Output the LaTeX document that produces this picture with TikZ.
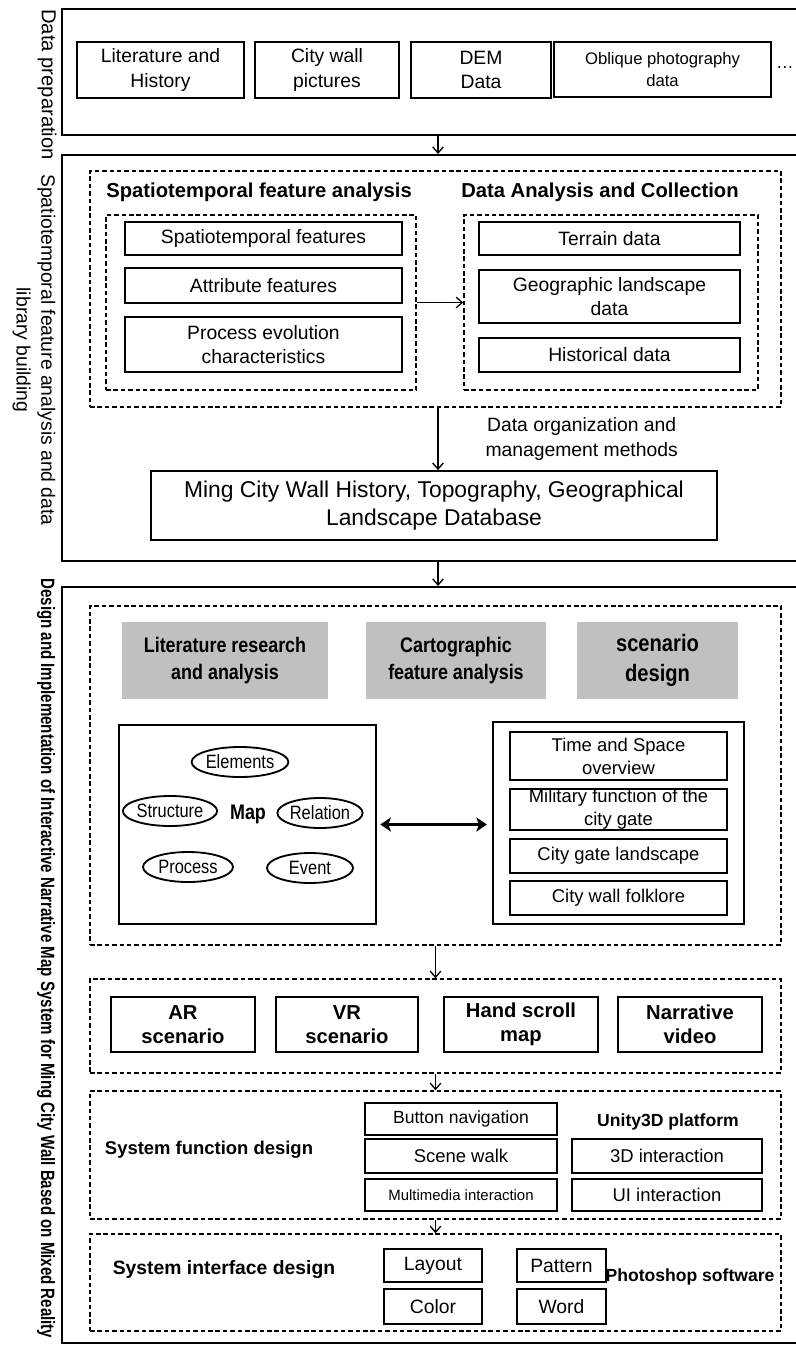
\documentclass[tikz,border=0pt]{standalone}
\usepackage{fontspec}
\setmainfont{Liberation Sans}
\newfontfamily\narrowfont[FakeStretch=0.85]{Liberation Sans}
\newfontfamily\slimfont[FakeStretch=0.78]{Liberation Sans}
\usepackage{tikz}
\usetikzlibrary{positioning}
\usetikzlibrary{fit}
\usetikzlibrary{shapes.geometric}
\usetikzlibrary{arrows.meta}
\definecolor{boxgrey}{RGB}{192,192,192}

\begin{document}
\begin{tikzpicture}[x=0.02cm, y=-0.02cm,
		frame/.style={draw, line width=1.1pt, inner sep=0pt},
		dframe/.style={draw, line width=0.8pt, dash pattern=on 2.6pt off 1.6pt, inner sep=0pt},
		size/.style 2 args={minimum width=#1*0.02cm, minimum height=#2*0.02cm},
		box/.style={draw, line width=0.95pt, inner sep=0pt, align=center, font=\fontsize{11}{14}\selectfont},
		nbox/.style={box, font=\fontsize{10.5}{13}\selectfont},
		bbox/.style={box, font=\bfseries\fontsize{11.5}{13.5}\selectfont},
		grey/.style={fill=boxgrey, inner sep=0pt, align=center, font=\narrowfont\bfseries\fontsize{12}{15}\selectfont},
		oval/.style={ellipse, draw, line width=1.05pt, inner sep=0pt, minimum height=30*0.02cm, font=\narrowfont\fontsize{11}{12}\selectfont},
		head/.style={inner sep=0pt, font=\bfseries\fontsize{11.5}{14}\selectfont},
		side/.style={rotate=-90, inner sep=0pt, align=center, font=\fontsize{11}{14}\selectfont},
		arr/.style={-{Straight Barb[length=3.5pt, width=6pt]}, line width=0.75pt},
		dbl/.style={{Stealth[length=6pt, width=8pt, inset=1.5pt]}-{Stealth[length=6pt, width=8pt, inset=1.5pt]}, line width=1.5pt}
	]
	\useasboundingbox (0,0) rectangle (795,1349);
	\coordinate (mid) at (438,0);

	% data preparation
	\node[frame, fit={(62,9) (800,135)}] (prep) {};
	\node[side, font=\fontsize{11.5}{14}\selectfont, anchor=west] (prepl) at (47,9) {Data preparation};
	\foreach \x/\w/\name/\txt in {160.5/167/lit/{Literature and\\History}, 327/144/pic/{City wall\\pictures}, 481/140/dem/{DEM\\Data}} {
		\node[box, size={\w}{56}] (\name) at (\x,70) {\txt};
	}
	\node[box, size={217}{55}, font=\fontsize{9.5}{12}\selectfont] (obl) at (662.5,69.5) {Oblique photography\\data};
	\node[inner sep=0pt] (more) at (785,68) {\dots};

	% feature analysis and database
	\node[frame, fit={(62,155) (800,561)}] (build) {};
	\node[side] (buildl) at (34,350) {Spatiotemporal feature analysis and data\\library building};
	\draw[arr] (prep.south -| mid) -- (build.north -| mid);

	\node[dframe, fit={(90,171) (781,407)}] (anal) {};
	\node[head, anchor=west] (feath) at (106,192) {Spatiotemporal feature analysis};
	\node[head, anchor=west] (collh) at (461,192) {Data Analysis and Collection};
	\node[dframe, fit={(106,215) (416,390)}] (feat) {};
	\node[dframe, fit={(464,215) (758,390)}] (coll) {};
	\node[box, size={277}{33}] (spat) at (263.5,238.5) {Spatiotemporal features};
	\node[box, size={277}{35}] (attr) at (263.5,285.5) {Attribute features};
	\node[box, size={277}{55}] (proc) at (263.5,344.5) {Process evolution\\characteristics};
	\node[box, size={261}{33}] (terr) at (609.5,238.5) {Terrain data};
	\node[box, size={261}{53}] (geo) at (609.5,296.5) {Geographic landscape\\data};
	\node[box, size={261}{34}] (hist) at (609.5,355) {Historical data};
	\draw[arr] (feat) -- (coll);

	\node[box, size={566}{69}, font=\fontsize{13}{15.5}\selectfont] (db) at (434,505.5) {Ming City Wall History, Topography, Geographical\\Landscape Database};
	\draw[arr] (anal.south -| mid) -- node[midway, anchor=west, xshift=0.82cm, align=center, font=\fontsize{11}{14}\selectfont] (orgl) {Data organization and\\management methods} (db.north -| mid);

	% narrative map system
	\node[frame, fit={(62,587) (800,1343)}] (design) {};
	\node[side, font=\slimfont\bfseries\fontsize{11}{14}\selectfont, anchor=west] (designl) at (46,578) {Design and Implementation of Interactive Narrative Map System for Ming City Wall Based on Mixed Reality};
	\draw[arr] (build.south -| mid) -- (design.north -| mid);

	\node[dframe, fit={(90,606) (781,945)}] (mapsec) {};
	\node[grey, size={206}{77}] (litr) at (225,660.5) {Literature research\\and analysis};
	\node[grey, size={180}{77}] (carto) at (456,660.5) {Cartographic\\feature analysis};
	\node[grey, size={161}{77}, font=\narrowfont\bfseries\fontsize{13.5}{17}\selectfont] (scd) at (657.5,660.5) {scenario\\design};

	\node[box, fit={(119,725) (376,924)}] (mapbox) {};
	\node[oval, minimum width=89*0.02cm] (elem) at (240,762) {Elements};
	\node[oval, minimum width=84*0.02cm] (struc) at (170,811) {Structure};
	\node[head, font=\narrowfont\bfseries\fontsize{12}{14}\selectfont] (mapt) at (248,814) {Map};
	\node[oval, minimum width=84*0.02cm] (rel) at (320,813) {Relation};
	\node[oval, minimum width=90*0.02cm] (procs) at (188,867) {Process};
	\node[oval, minimum width=86*0.02cm] (evt) at (310,868) {Event};

	\node[box, fit={(493,722) (744,924)}] (scen) {};
	\node[nbox, size={217}{48}] (tsp) at (618.5,756) {Time and Space\\overview};
	\node[nbox, size={217}{41}] (mil) at (618.5,809.5) {Military function of the\\city gate};
	\node[nbox, size={217}{34}] (land) at (618.5,856) {City gate landscape};
	\node[nbox, size={217}{34}] (folk) at (618.5,898) {City wall folklore};
	\draw[dbl, shorten <=2pt, shorten >=3pt] (mapbox.east) -- (mapbox.east -| scen.west);

	\node[dframe, fit={(90,979) (781,1073)}] (prod) {};
	\foreach \x/\w/\name/\txt in {183/144/ar/{AR\\scenario}, 347/142/vr/{VR\\scenario}, 521/154/scroll/{Hand scroll\\map}, 690/144/video/{Narrative\\video}} {
		\node[bbox, size={\w}{55}] (\name) at (\x,1024.5) {\txt};
	}
	\draw[arr] (mapsec) -- (prod);

	\node[dframe, fit={(90,1091) (781,1219)}] (func) {};
	\node[head, font=\bfseries\fontsize{10.5}{13}\selectfont] (funcl) at (209,1150) {System function design};
	\node[box, size={192}{32}, font=\fontsize{10}{12}\selectfont] (nav) at (461,1119) {Button navigation};
	\node[box, size={192}{34}, font=\fontsize{10.5}{12}\selectfont] (walk) at (461,1156) {Scene walk};
	\node[box, size={192}{32}, font=\fontsize{8.5}{10}\selectfont] (media) at (461,1195) {Multimedia interaction};
	\node[head, font=\bfseries\fontsize{10}{12}\selectfont] (unity) at (668,1122) {Unity3D platform};
	\node[box, size={190}{34}, font=\fontsize{10.5}{12}\selectfont] (threed) at (667,1156) {3D interaction};
	\node[box, size={190}{32}, font=\fontsize{10.5}{12}\selectfont] (uiint) at (667,1195) {UI interaction};
	\draw[arr] (prod) -- (func);

	\node[dframe, fit={(90,1234) (781,1331)}] (iface) {};
	\node[head, font=\bfseries\fontsize{11}{13}\selectfont] (ifacel) at (224,1270) {System interface design};
	\node[box, size={98}{33}] (layout) at (433,1265.5) {Layout};
	\node[box, size={89}{33}] (pattern) at (561.5,1265.5) {Pattern};
	\node[box, size={98}{35}] (color) at (433,1306.5) {Color};
	\node[box, size={89}{35}] (word) at (561.5,1306.5) {Word};
	\node[head, font=\bfseries\fontsize{10}{12}\selectfont] (psl) at (690,1277) {Photoshop software};
	\draw[arr] (func) -- (iface);
\end{tikzpicture}
\end{document}
